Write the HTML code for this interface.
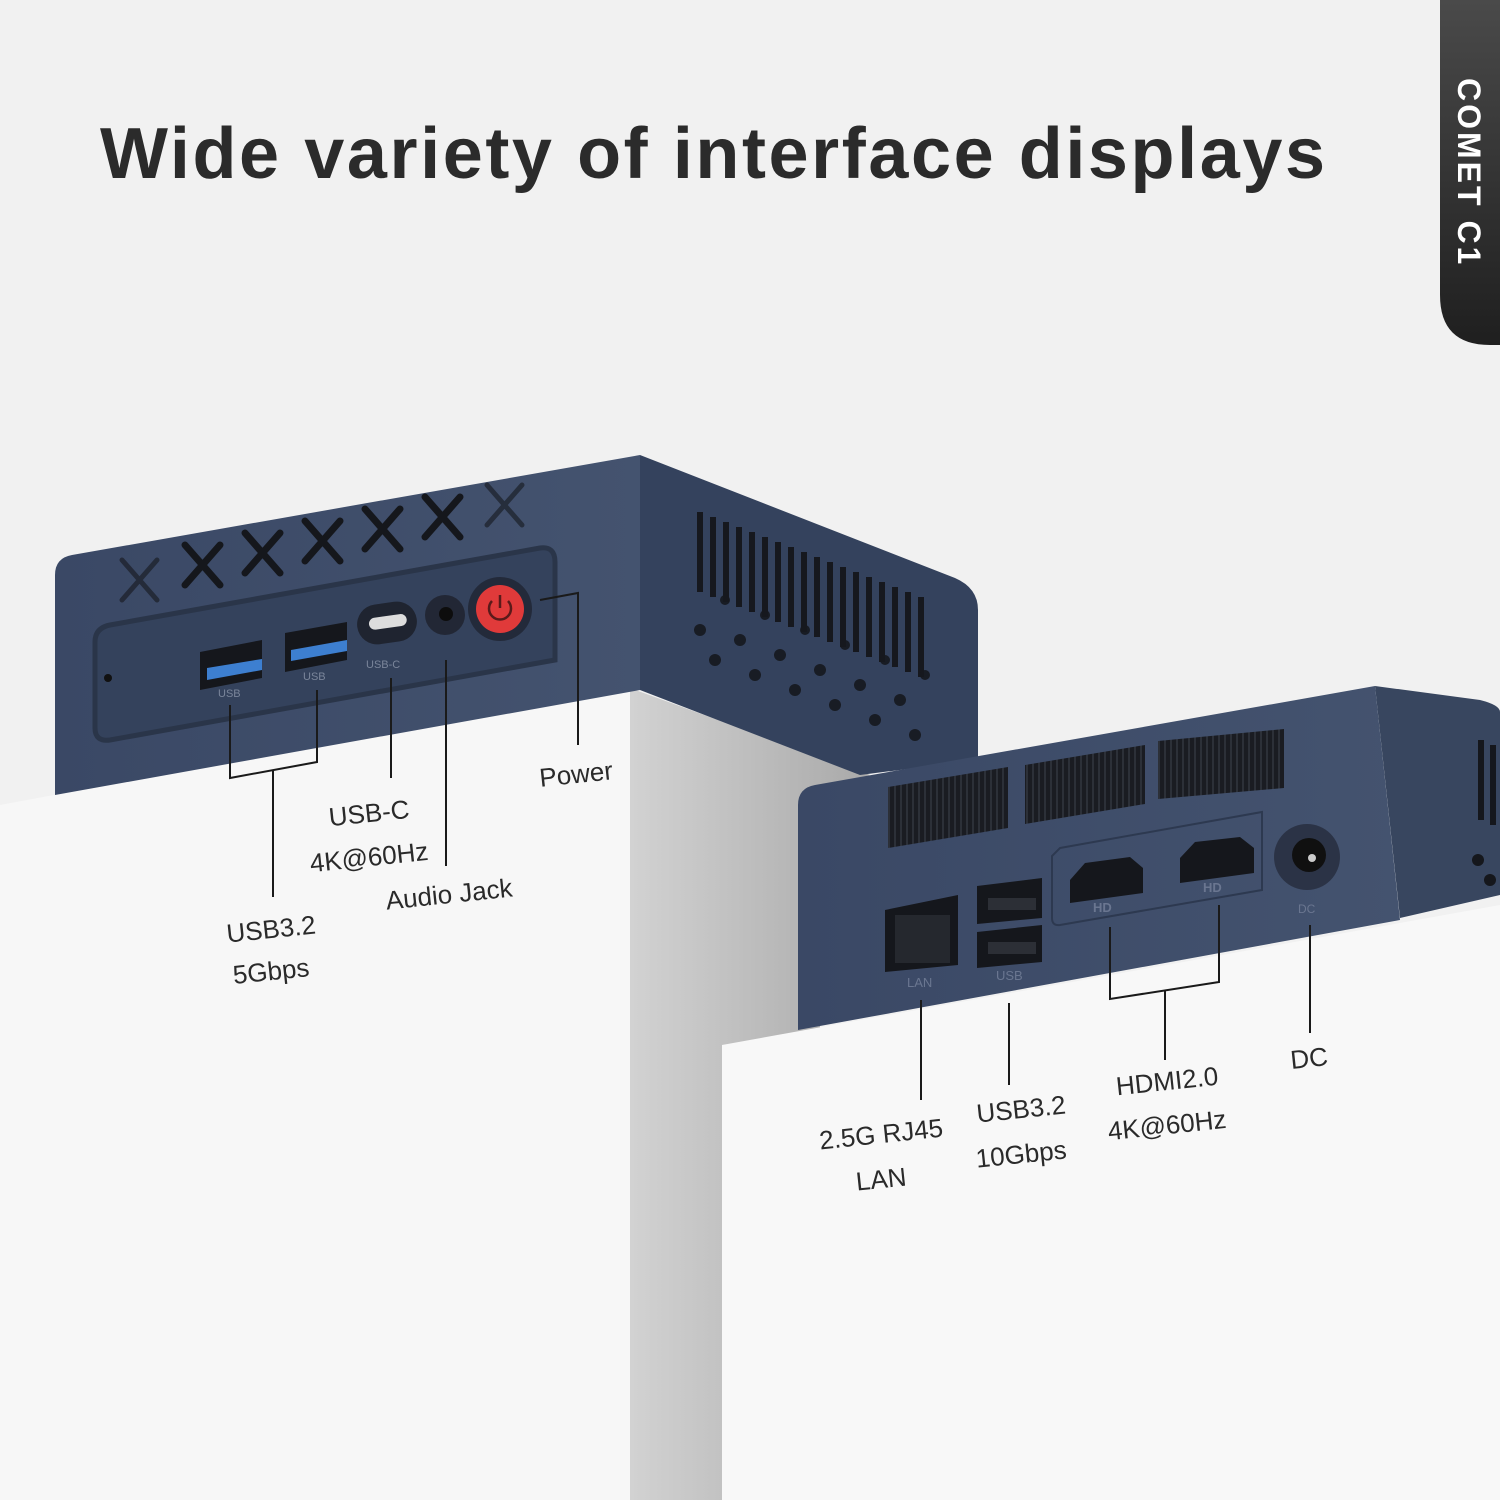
<!DOCTYPE html>
<html><head><style>
html,body{margin:0;padding:0;background:#f1f1f1;}
svg{display:block}
</style></head><body>
<svg width="1500" height="1500" viewBox="0 0 1500 1500" xmlns="http://www.w3.org/2000/svg" font-family="Liberation Sans, sans-serif">
<defs>
<linearGradient id="side" x1="0" x2="1" y1="0" y2="0"><stop offset="0" stop-color="#d2d2d2"/><stop offset="1" stop-color="#a9a9a9"/></linearGradient>
<linearGradient id="tab" x1="0" x2="0" y1="0" y2="1"><stop offset="0" stop-color="#4a4a4a"/><stop offset="1" stop-color="#1f1f1f"/></linearGradient>
<linearGradient id="navy" x1="0" x2="1" y1="0" y2="0"><stop offset="0" stop-color="#3a4865"/><stop offset="1" stop-color="#44536f"/></linearGradient>
<pattern id="grill" width="6" height="6" patternUnits="userSpaceOnUse"><rect width="6" height="6" fill="#1a1c22"/><rect width="2" height="6" fill="#2c3038"/></pattern>
</defs>
<rect width="1500" height="1500" fill="#f1f1f1"/>
<!-- title -->
<text x="100" y="178" font-size="72" font-weight="bold" fill="#2b2b2b" textLength="1225" lengthAdjust="spacing">Wide variety of interface displays</text>
<!-- tab -->
<path d="M1440 0 H1500 V345 H1490 Q1440 345 1440 295 Z" fill="url(#tab)"/>
<text transform="translate(1458,78) rotate(90)" font-size="32" font-weight="bold" fill="#fff" letter-spacing="3">COMET C1</text>

<!-- left pedestal -->
<polygon points="630,688 870,775 820,790 820,1040 722,1045 722,1500 630,1500" fill="url(#side)"/>
<polygon points="0,805 630,688 630,1500 0,1500" fill="#f7f7f7"/>
<!-- left device side -->
<path d="M640 455 L955 578 Q978 588 978 610 L978 760 L860 775 L640 690 Z" fill="#34425d"/>
<g fill="#16181e">
<rect x="697" y="512" width="6" height="80"/><rect x="710" y="517" width="6" height="80"/><rect x="723" y="522" width="6" height="80"/><rect x="736" y="527" width="6" height="80"/><rect x="749" y="532" width="6" height="80"/><rect x="762" y="537" width="6" height="80"/><rect x="775" y="542" width="6" height="80"/><rect x="788" y="547" width="6" height="80"/><rect x="801" y="552" width="6" height="80"/><rect x="814" y="557" width="6" height="80"/><rect x="827" y="562" width="6" height="80"/><rect x="840" y="567" width="6" height="80"/><rect x="853" y="572" width="6" height="80"/><rect x="866" y="577" width="6" height="80"/><rect x="879" y="582" width="6" height="80"/><rect x="892" y="587" width="6" height="80"/><rect x="905" y="592" width="6" height="80"/><rect x="918" y="597" width="6" height="80"/>
</g>
<g fill="#16181e" opacity="0.9">
<circle cx="700" cy="630" r="6"/><circle cx="740" cy="640" r="6"/><circle cx="780" cy="655" r="6"/><circle cx="820" cy="670" r="6"/><circle cx="860" cy="685" r="6"/><circle cx="900" cy="700" r="6"/>
<circle cx="715" cy="660" r="6"/><circle cx="755" cy="675" r="6"/><circle cx="795" cy="690" r="6"/><circle cx="835" cy="705" r="6"/><circle cx="875" cy="720" r="6"/><circle cx="915" cy="735" r="6"/>
<circle cx="725" cy="600" r="5"/><circle cx="765" cy="615" r="5"/><circle cx="805" cy="630" r="5"/><circle cx="845" cy="645" r="5"/><circle cx="885" cy="660" r="5"/><circle cx="925" cy="675" r="5"/>
</g>
<!-- left device front -->
<path d="M72 555 L640 455 L640 690 L55 795 L55 575 Q55 558 72 555 Z" fill="url(#navy)"/>
<g stroke="#15171c" stroke-width="7" stroke-linecap="round">
<path d="M185 545 L220 585 M220 545 L185 585"/><path d="M245 533 L280 573 M280 533 L245 573"/><path d="M305 521 L340 561 M340 521 L305 561"/><path d="M365 509 L400 549 M400 509 L365 549"/><path d="M425 497 L460 537 M460 497 L425 537"/>
</g>
<g stroke="#15171c" stroke-width="5" stroke-linecap="round" opacity="0.6"><path d="M122 560 L157 600 M157 560 L122 600"/><path d="M487 485 L522 525 M522 485 L487 525"/></g>
<path d="M110 625 L540 548 Q555 546 555 562 L555 660 L110 740 Q95 742 95 728 L95 642 Q95 628 110 625 Z" fill="#34425c" stroke="#2a3549" stroke-width="5"/>
<circle cx="108" cy="678" r="4" fill="#111"/>
<polygon points="200,652 262,640 262,678 200,690" fill="#15171c"/>
<polygon points="207,668 262,659 262,670 207,680" fill="#3d7fd0"/>
<polygon points="285,633 347,622 347,660 285,672" fill="#15171c"/>
<polygon points="291,650 347,640 347,651 291,661" fill="#3d7fd0"/>
<text x="218" y="697" font-size="11" fill="#7a859a">USB</text>
<text x="303" y="680" font-size="11" fill="#7a859a">USB</text>
<rect x="357" y="603" width="60" height="40" rx="20" fill="#1f2430" transform="rotate(-8 387 623)"/>
<rect x="369" y="616" width="38" height="12" rx="6" fill="#ddd" transform="rotate(-8 387 623)"/>
<text x="366" y="668" font-size="11" fill="#7a859a">USB-C</text>
<circle cx="445" cy="615" r="20" fill="#222735"/><circle cx="446" cy="614" r="7" fill="#0d0d0d"/>
<circle cx="500" cy="609" r="32" fill="#232a3a"/><circle cx="500" cy="609" r="24" fill="#e03a3a"/>
<path d="M492 601 A11 11 0 1 0 508 601" fill="none" stroke="#5a1a1a" stroke-width="2.5"/><line x1="500" y1="595" x2="500" y2="608" stroke="#5a1a1a" stroke-width="2.5"/>

<!-- right pedestal -->
<polygon points="722,1045 1500,905 1500,1500 722,1500" fill="#f8f8f8"/>
<!-- right device side -->
<path d="M1375 686 L1480 700 Q1500 705 1500 712 L1500 895 L1400 918 Z" fill="#38465f"/>
<g fill="#15171c"><rect x="1478" y="740" width="6" height="80"/><rect x="1490" y="745" width="6" height="80"/><circle cx="1478" cy="860" r="6"/><circle cx="1490" cy="880" r="6"/></g>
<!-- right device front -->
<path d="M815 785 L1375 686 L1400 920 L798 1030 L798 805 Q798 788 815 785 Z" fill="url(#navy)"/>
<polygon points="888,787 1008,767 1008,828 888,848" fill="url(#grill)"/>
<polygon points="1025,765 1145,745 1145,804 1025,824" fill="url(#grill)"/>
<polygon points="1158,741 1284,729 1284,788 1158,799" fill="url(#grill)"/>
<path d="M1060 848 L1262 812 L1262 890 L1060 925 Q1052 926 1052 918 L1052 856 Z" fill="none" stroke="#2d3950" stroke-width="2"/>
<polygon points="1070,880 1085,863 1130,857 1143,868 1143,893 1070,903" fill="#15171c"/>
<polygon points="1180,858 1195,842 1240,837 1254,848 1254,873 1180,883" fill="#15171c"/>
<text x="1093" y="912" font-size="13" font-weight="bold" fill="#6a7690">HD</text>
<text x="1203" y="892" font-size="13" font-weight="bold" fill="#6a7690">HD</text>
<circle cx="1307" cy="857" r="33" fill="#2b3346"/><circle cx="1309" cy="855" r="17" fill="#101010"/><circle cx="1312" cy="858" r="4" fill="#ccc"/>
<text x="1298" y="913" font-size="12" fill="#6a7690">DC</text>
<polygon points="885,910 958,895 958,965 885,972" fill="#15171c"/>
<rect x="895" y="915" width="55" height="48" fill="#25282e"/>
<polygon points="977,886 1042,878 1042,918 977,924" fill="#15171c"/>
<polygon points="977,932 1042,925 1042,962 977,968" fill="#15171c"/>
<rect x="988" y="898" width="48" height="12" fill="#2c2f36"/><rect x="988" y="942" width="48" height="12" fill="#2c2f36"/>
<text x="907" y="987" font-size="13" fill="#6a7690">LAN</text>
<text x="996" y="980" font-size="13" fill="#6a7690">USB</text>

<g stroke="#1a1a1a" stroke-width="2" fill="none">
<path d="M230 705 V778 L317 762 V690"/><path d="M273 770 V897"/>
<path d="M391 678 V778"/><path d="M446 660 V866"/>
<path d="M540 600 L578 593 V745"/>
<path d="M921 1000 V1100"/><path d="M1009 1003 V1085"/>
<path d="M1110 927 V999 L1219 982 V905"/><path d="M1165 991 V1060"/>
<path d="M1310 925 V1033"/>
</g>
<g font-size="26" fill="#2a2a2a" text-anchor="middle">
<text transform="translate(272,938) rotate(-6)">USB3.2</text>
<text transform="translate(272,980) rotate(-6)">5Gbps</text>
<text transform="translate(370,822) rotate(-6)">USB-C</text>
<text transform="translate(370,866) rotate(-6)">4K@60Hz</text>
<text transform="translate(450,903) rotate(-6)">Audio Jack</text>
<text transform="translate(577,783) rotate(-6)">Power</text>
<text transform="translate(882,1143) rotate(-6)">2.5G RJ45</text>
<text transform="translate(882,1188) rotate(-6)">LAN</text>
<text transform="translate(1022,1118) rotate(-6)">USB3.2</text>
<text transform="translate(1022,1163) rotate(-6)">10Gbps</text>
<text transform="translate(1168,1090) rotate(-6)">HDMI2.0</text>
<text transform="translate(1168,1134) rotate(-6)">4K@60Hz</text>
<text transform="translate(1310,1067) rotate(-6)">DC</text>
</g>
</svg>
</body></html>
